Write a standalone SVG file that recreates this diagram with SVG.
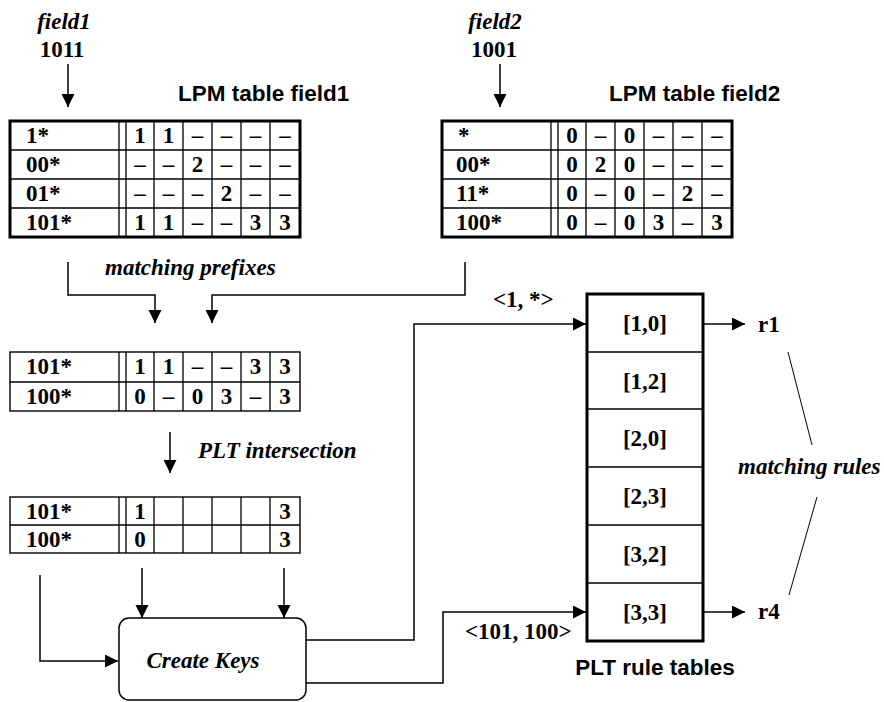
<svg xmlns="http://www.w3.org/2000/svg" width="884" height="702" viewBox="0 0 884 702">
<style>
.t{font-family:"Liberation Serif","Times New Roman",serif;font-weight:bold;font-size:23px;fill:#000}
.i{font-style:italic}
.c{text-anchor:middle}
.a{font-family:"Liberation Sans",Arial,sans-serif;font-weight:bold;font-size:22.5px;fill:#000}
.thick{fill:#fff;stroke:#000;stroke-width:3}
.thin{fill:#fff;stroke:#000;stroke-width:1.4}
.gl{stroke:#000;stroke-width:1.3;fill:none}
.cn{stroke:#000;stroke-width:1.5;fill:none}
.dl{stroke:#000;stroke-width:1;fill:none}
</style>
<defs>
<marker id="ah" markerUnits="userSpaceOnUse" markerWidth="14" markerHeight="14" refX="13" refY="6.5" orient="auto">
<path d="M0,0 L13,6.5 L0,13 z" fill="#000"/>
</marker>
</defs>
<rect width="884" height="702" fill="#fff"/>

<g id="field1-input">
<text class="t i c" x="64" y="29">field1</text>
<text class="t c" x="62" y="57">1011</text>
</g>
<g id="field2-input">
<text class="t i c" x="495" y="29">field2</text>
<text class="t c" x="494" y="57">1001</text>
</g>

<g id="lpm-field1">
<text class="a" x="178" y="101">LPM table field1</text>
<rect class="thick" x="10" y="121" width="290" height="116"/>
<path class="gl" d="M10,150H300M10,179H300M10,208H300M119,121V237M126,121V237M154,121V237M183,121V237M212,121V237M241,121V237M270,121V237"/>
<g class="t">
<text x="26" y="143">1*</text><text x="26" y="172">00*</text><text x="26" y="201">01*</text><text x="26" y="230">101*</text>
</g>
<g class="t c">
<text x="140" y="143">1</text><text x="168.5" y="143">1</text><text x="197.5" y="143">–</text><text x="226.5" y="143">–</text><text x="255.5" y="143">–</text><text x="285" y="143">–</text>
<text x="140" y="172">–</text><text x="168.5" y="172">–</text><text x="197.5" y="172">2</text><text x="226.5" y="172">–</text><text x="255.5" y="172">–</text><text x="285" y="172">–</text>
<text x="140" y="201">–</text><text x="168.5" y="201">–</text><text x="197.5" y="201">–</text><text x="226.5" y="201">2</text><text x="255.5" y="201">–</text><text x="285" y="201">–</text>
<text x="140" y="230">1</text><text x="168.5" y="230">1</text><text x="197.5" y="230">–</text><text x="226.5" y="230">–</text><text x="255.5" y="230">3</text><text x="285" y="230">3</text>
</g>
</g>

<g id="lpm-field2">
<text class="a" x="609" y="101">LPM table field2</text>
<rect class="thick" x="442" y="121" width="290" height="116"/>
<path class="gl" d="M442,150H732M442,179H732M442,208H732M551,121V237M558,121V237M586,121V237M615,121V237M644,121V237M673,121V237M702,121V237"/>
<g class="t">
<text x="458" y="143">*</text><text x="456" y="172">00*</text><text x="456" y="201">11*</text><text x="456" y="230">100*</text>
</g>
<g class="t c">
<text x="572" y="143">0</text><text x="600.5" y="143">–</text><text x="629.5" y="143">0</text><text x="658.5" y="143">–</text><text x="687.5" y="143">–</text><text x="717" y="143">–</text>
<text x="572" y="172">0</text><text x="600.5" y="172">2</text><text x="629.5" y="172">0</text><text x="658.5" y="172">–</text><text x="687.5" y="172">–</text><text x="717" y="172">–</text>
<text x="572" y="201">0</text><text x="600.5" y="201">–</text><text x="629.5" y="201">0</text><text x="658.5" y="201">–</text><text x="687.5" y="201">2</text><text x="717" y="201">–</text>
<text x="572" y="230">0</text><text x="600.5" y="230">–</text><text x="629.5" y="230">0</text><text x="658.5" y="230">3</text><text x="687.5" y="230">–</text><text x="717" y="230">3</text>
</g>
</g>

<g id="matching-prefixes-table">
<rect class="thin" x="10" y="352" width="290" height="59"/>
<path class="gl" d="M10,382H300M119,352V411M126,352V411M154,352V411M183,352V411M212,352V411M241,352V411M270,352V411"/>
<g class="t">
<text x="26" y="374">101*</text><text x="26" y="404">100*</text>
</g>
<g class="t c">
<text x="140" y="374">1</text><text x="168.5" y="374">1</text><text x="197.5" y="374">–</text><text x="226.5" y="374">–</text><text x="255.5" y="374">3</text><text x="285" y="374">3</text>
<text x="140" y="404">0</text><text x="168.5" y="404">–</text><text x="197.5" y="404">0</text><text x="226.5" y="404">3</text><text x="255.5" y="404">–</text><text x="285" y="404">3</text>
</g>
</g>

<g id="intersection-table">
<rect class="thin" x="10" y="497" width="290" height="56"/>
<path class="gl" d="M10,525H300M119,497V553M126,497V553M154,497V553M183,497V553M212,497V553M241,497V553M270,497V553"/>
<g class="t">
<text x="26" y="519">101*</text><text x="26" y="547">100*</text>
</g>
<g class="t c">
<text x="140" y="519">1</text><text x="285" y="519">3</text>
<text x="140" y="547">0</text><text x="285" y="547">3</text>
</g>
</g>

<g id="create-keys">
<rect x="119" y="618" width="187" height="82" rx="10" ry="10" fill="#fff" stroke="#000" stroke-width="1.5"/>
<text class="t i c" x="203" y="668">Create Keys</text>
</g>

<g id="plt-rule-tables">
<rect class="thick" x="587" y="294" width="116" height="347"/>
<path class="gl" d="M587,352H703M587,409H703M587,467H703M587,525H703M587,583H703"/>
<g class="t c">
<text x="645" y="331">[1,0]</text>
<text x="645" y="389">[1,2]</text>
<text x="645" y="446">[2,0]</text>
<text x="645" y="504">[2,3]</text>
<text x="645" y="562">[3,2]</text>
<text x="645" y="620">[3,3]</text>
</g>
<text class="a c" x="655" y="675">PLT rule tables</text>
</g>

<g id="results">
<text class="t" x="758" y="332">r1</text>
<text class="t" x="758" y="619">r4</text>
</g>

<g id="connectors">
<path class="cn" d="M68,64V107" marker-end="url(#ah)"/>
<path class="cn" d="M500,64V107" marker-end="url(#ah)"/>
<path class="cn" d="M68,262V295H155V323" marker-end="url(#ah)"/>
<path class="cn" d="M465,262V295H212V323" marker-end="url(#ah)"/>
<path class="cn" d="M170,432V473" marker-end="url(#ah)"/>
<path class="cn" d="M142,568V618" marker-end="url(#ah)"/>
<path class="cn" d="M284,568V618" marker-end="url(#ah)"/>
<path class="cn" d="M40,575V661H118" marker-end="url(#ah)"/>
<path class="cn" d="M306,640H414V324H586" marker-end="url(#ah)"/>
<path class="cn" d="M306,683H443V612H586" marker-end="url(#ah)"/>
<path class="cn" d="M703,324H745" marker-end="url(#ah)"/>
<path class="cn" d="M703,612H745" marker-end="url(#ah)"/>
<path class="dl" d="M788,352L812,445M817,497L789,595"/>
</g>

<g id="labels">
<text class="t i" x="105" y="275">matching prefixes</text>
<text class="t i" x="198" y="458">PLT intersection</text>
<text class="t" x="493" y="307">&lt;1, *&gt;</text>
<text class="t" x="465" y="639">&lt;101, 100&gt;</text>
<text class="t i" x="738" y="474">matching rules</text>
</g>
</svg>
